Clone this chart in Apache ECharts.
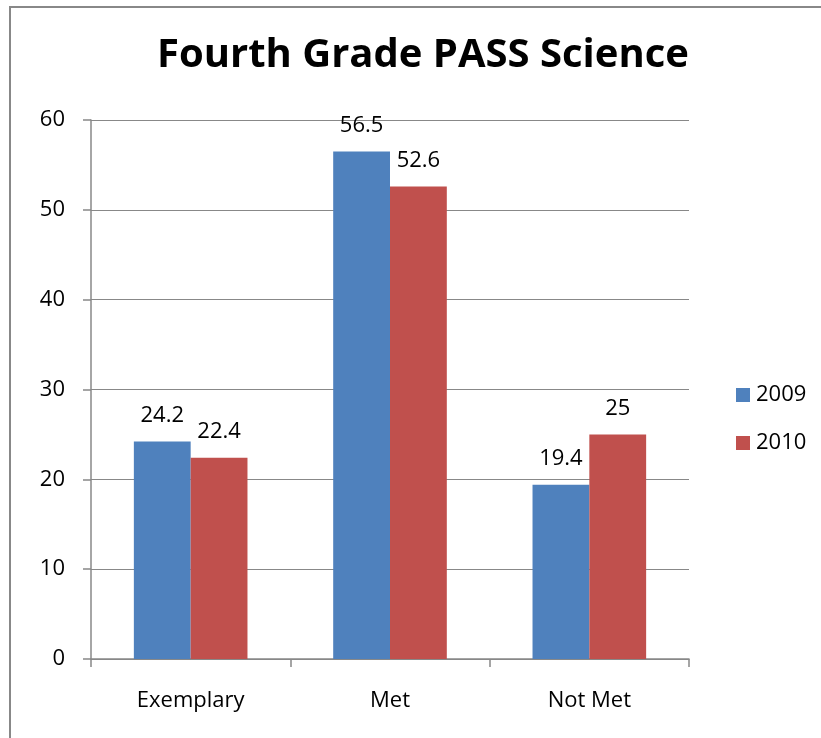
<!DOCTYPE html>
<html><head><meta charset="utf-8">
<script src="https://cdn.jsdelivr.net/npm/echarts@6/dist/echarts.min.js"></script>
<style>html,body{margin:0;padding:0;background:#fff}#c{width:821px;height:738px}</style>
</head><body><div id="c"></div>
<script>
const categories = ['Exemplary', 'Met', 'Not Met'];
const series2009 = [24.2, 56.5, 19.4];
const series2010 = [22.4, 52.6, 25];
const seriesNames = ['2009', '2010'];
const yTicks = [0, 10, 20, 30, 40, 50, 60];

const font = '"Open Sans", "Liberation Sans", sans-serif';
const fs = 22;
const chart = echarts.init(document.getElementById('c'), null, {renderer: 'canvas'});
chart.setOption({
  animation: false,
  backgroundColor: '#fff',
  title: {
    text: 'Fourth Grade PASS Science',
    left: 152, top: 31,
    padding: 5,
    textStyle: {fontFamily: font, fontWeight: 'bold', fontSize: 40, color: '#000'}
  },
  graphic: [{
    type: 'rect', silent: true,
    shape: {x: 10, y: 7, width: 900, height: 900},
    style: {fill: 'none', stroke: '#888', lineWidth: 2}
  }],
  legend: {
    orient: 'vertical', left: 731, top: 379,
    itemWidth: 14, itemHeight: 14, itemGap: 26,
    icon: 'rect',
    textStyle: {fontFamily: font, fontSize: fs, color: '#000', padding: [0,0,0,1]},
    data: seriesNames
  },
  grid: {left: 91, right: 132, top: 120, bottom: 79},
  xAxis: {
    type: 'category', data: categories,
    axisLine: {lineStyle: {color: '#888', width: 1.5}},
    axisTick: {show: true, length: 8, lineStyle: {color: '#888', width: 1.5}},
    axisLabel: {fontFamily: font, fontSize: fs, color: '#000', margin: 31}
  },
  yAxis: {
    type: 'value', min: yTicks[0], max: yTicks[yTicks.length-1], interval: 10,
    axisLine: {show: true, lineStyle: {color: '#888', width: 1.5}},
    axisTick: {show: true, length: 8, lineStyle: {color: '#888', width: 1.5}},
    splitLine: {lineStyle: {color: '#888', width: 1.2}},
    axisLabel: {fontFamily: font, fontSize: fs, color: '#000', margin: 26}
  },
  series: [
    {name: seriesNames[0], type: 'bar', data: series2009, barGap: '0%', barCategoryGap: '43%',
     itemStyle: {color: '#4F81BD'},
     label: {show: true, position: 'top', distance: 15, fontFamily: font, fontSize: fs, color: '#000'}},
    {name: seriesNames[1], type: 'bar', data: series2010, barGap: '0%', barCategoryGap: '43%',
     itemStyle: {color: '#C0504D'},
     label: {show: true, position: 'top', distance: 15, fontFamily: font, fontSize: fs, color: '#000'}}
  ]
});
</script></body></html>
